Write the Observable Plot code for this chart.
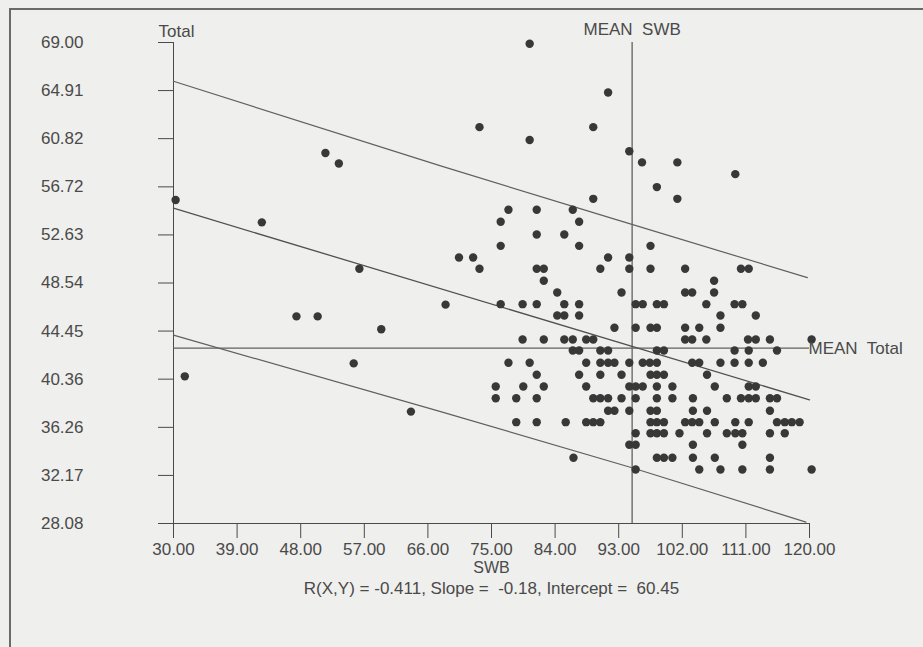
<!DOCTYPE html>
<html>
<head>
<meta charset="utf-8">
<script src="https://cdn.jsdelivr.net/npm/d3@7"></script>
<script src="https://cdn.jsdelivr.net/npm/@observablehq/plot@0.6"></script>
<style>
  html, body { margin: 0; padding: 0; background: #efefed; }
  #wrap { position: relative; width: 923px; height: 647px; overflow: hidden; }
  #frame { position: absolute; left: 9px; top: 8px; width: 930px; height: 660px;
           border-top: 2px solid #6a6a6a; border-left: 2px solid #6a6a6a; }
  #chart { position: absolute; left: 0; top: 0; }
  svg text { white-space: pre; }
</style>
</head>
<body>
<div id="wrap"><div id="frame"></div><div id="chart"></div></div>
<script>
// Axis ticks
const xTicks = [30, 39, 48, 57, 66, 75, 84, 93, 102, 111, 120];
const yTicks = [28.08, 32.17, 36.26, 40.36, 44.45, 48.54, 52.63, 56.72, 60.82, 64.91, 69.00];

// Summary values
const meanSWB = 94.9;
const meanTotal = 43.0;
const caption = "R(X,Y) = -0.411, Slope =  -0.18, Intercept =  60.45";

// Regression line and prediction band
const regSWB = [30, 120];
const regTotal = [54.9, 38.6];
const upperSWB = [30, 67.8, 92.3, 119.7];
const upperTotal = [65.7, 58.5, 54.0, 49.0];
const lowerSWB = [30, 67.8, 95.0, 119.5];
const lowerTotal = [44.1, 37.6, 32.8, 28.2];

// Scattered (isolated) points
const looseSWB   = [30.3, 42.5, 51.5, 53.4, 56.3, 47.4, 50.4, 59.4, 55.5, 31.6, 63.6, 68.5,
                    80.4, 91.5, 73.3, 89.4, 80.4, 94.5, 96.3, 101.3, 98.4, 101.3, 89.4, 109.5];
const looseTotal = [55.6, 53.7, 59.6, 58.7, 49.75, 45.7, 45.7, 44.6, 41.7, 40.6, 37.6, 46.7,
                    68.9, 64.75, 61.8, 61.8, 60.7, 59.75, 58.8, 58.8, 56.7, 55.7, 55.7, 57.8];

// Rows of points sharing the same Total value
const rowTotal = [54.77, 53.75, 52.67, 51.7, 50.71, 49.75, 48.73, 47.73, 46.74, 45.78,
                  44.73, 43.73, 42.8, 41.75, 40.73, 39.74, 38.74, 37.67, 36.7, 35.76,
                  34.78, 33.67, 32.67];
const rowSWB = [
  [77.4, 81.4, 86.5],
  [76.3, 87.4],
  [81.4, 85.3],
  [76.3, 87.4, 97.5],
  [70.4, 72.4, 91.5, 94.5],
  [73.3, 81.4, 82.4, 90.4, 94.5, 97.5, 102.4, 110.3, 111.4],
  [82.4, 106.5],
  [84.3, 93.4, 102.4, 103.4, 106.5],
  [76.3, 79.4, 81.4, 85.3, 87.4, 95.4, 96.4, 98.4, 99.4, 105.4, 109.4, 110.5],
  [84.3, 85.3, 87.4, 107.4, 112.4],
  [92.4, 95.4, 97.5, 98.4, 102.4, 104.4, 107.4],
  [79.4, 82.4, 85.3, 86.5, 88.4, 89.4, 102.4, 103.4, 105.4, 111.3, 112.4, 114.4, 120.3],
  [86.5, 87.4, 90.4, 91.5, 98.4, 99.4, 109.4, 111.4, 115.4],
  [77.4, 80.4, 88.4, 90.4, 91.5, 92.4, 94.5, 96.4, 97.4, 98.4, 103.4, 104.4, 107.4, 109.4, 111.4, 113.4],
  [81.4, 87.4, 90.4, 93.4, 97.5, 98.4, 99.4, 105.5],
  [75.6, 79.5, 82.4, 88.4, 94.5, 95.4, 96.4, 98.4, 100.6, 106.6, 111.4, 112.4],
  [75.6, 78.5, 81.4, 89.4, 90.4, 91.5, 93.4, 95.4, 98.4, 100.6, 103.5, 108.3, 110.3, 111.4, 112.4, 114.4, 115.4],
  [91.5, 92.4, 94.5, 97.5, 98.4, 103.5, 105.5, 114.4],
  [78.5, 81.4, 85.5, 88.4, 89.4, 90.4, 97.5, 98.4, 99.4, 102.4, 103.4, 104.4, 106.6, 109.5, 111.4, 115.4, 116.5, 117.5, 118.6],
  [95.4, 97.5, 98.4, 99.4, 101.6, 105.5, 108.3, 109.5, 110.5, 114.4, 116.5],
  [94.5, 95.4, 103.5, 110.5],
  [86.6, 98.4, 99.4, 100.6, 103.5, 106.6, 114.4],
  [95.4, 104.4, 107.4, 110.5, 114.4, 120.3]
];

// Build tables for the library
const points = looseSWB.map((s, i) => ({swb: s, total: looseTotal[i]}));
rowTotal.forEach((t, i) => rowSWB[i].forEach(s => points.push({swb: s, total: t})));
const reg = regSWB.map((s, i) => ({swb: s, total: regTotal[i]}));
const upper = upperSWB.map((s, i) => ({swb: s, total: upperTotal[i]}));
const lower = lowerSWB.map((s, i) => ({swb: s, total: lowerTotal[i]}));

const lineColor = "#606060";
const textColor = "#4a4a4a";

const chart = Plot.plot({
  width: 923,
  height: 647,
  marginLeft: 173,
  marginRight: 114,
  marginTop: 42,
  marginBottom: 124,
  style: {
    background: "transparent",
    fontFamily: "'Liberation Sans', Arial, sans-serif",
    fontSize: "17px",
    color: textColor
  },
  x: {
    domain: [30, 120],
    ticks: xTicks,
    tickFormat: d => d.toFixed(2),
    tickSize: 15,
    tickPadding: 4,
    line: true,
    label: null
  },
  y: {
    domain: [28.08, 69],
    ticks: yTicks,
    tickFormat: d => d.toFixed(2),
    tickSize: 15,
    tickPadding: 75,
    line: true,
    label: null
  },
  marks: [
    Plot.ruleY([meanTotal], {x1: 30, x2: 120, stroke: lineColor, strokeWidth: 1.3}),
    Plot.ruleX([meanSWB], {y1: 28.08, y2: 69, stroke: lineColor, strokeWidth: 1.3}),
    Plot.line(upper, {x: "swb", y: "total", stroke: lineColor, strokeWidth: 1.2}),
    Plot.line(lower, {x: "swb", y: "total", stroke: lineColor, strokeWidth: 1.2}),
    Plot.line(reg, {x: "swb", y: "total", stroke: "#505050", strokeWidth: 1.3}),
    Plot.dot(points, {x: "swb", y: "total", r: 4.2, fill: "#383838", stroke: "none"}),
    Plot.text(["Total"], {x: 30, y: 69, dx: 3, dy: -11, text: d => d, fill: textColor, fontSize: 17}),
    Plot.text(["MEAN  SWB"], {x: meanSWB, y: 69, dy: -13, text: d => d, fill: textColor, fontSize: 17}),
    Plot.text(["MEAN  Total"], {x: 120, y: meanTotal, dx: -1, text: d => d, textAnchor: "start", fill: textColor, fontSize: 17}),
    Plot.text(["SWB"], {frameAnchor: "bottom", dy: 49, text: d => d, fill: textColor, fontSize: 16}),
    Plot.text([caption], {frameAnchor: "bottom", dy: 70, text: d => d, fill: textColor, fontSize: 17})
  ]
});
document.getElementById("chart").appendChild(chart);
</script>
</body>
</html>
